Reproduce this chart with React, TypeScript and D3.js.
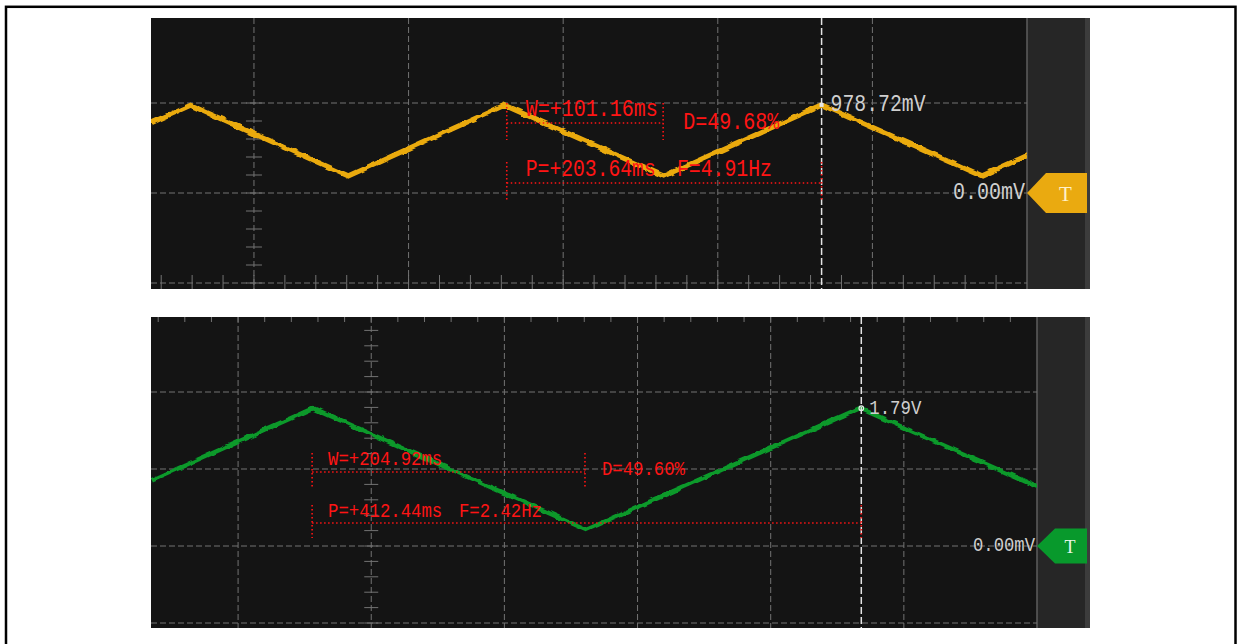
import React from 'react'
import { scaleLinear, line, range, max } from 'd3'

// channel A (yellow trace, upper screenshot): vertices of the triangle wave
const chATimeMs = [-66.6, -41.0, 61.0, 162.0, 265.0, 367.4, 471.0, 500.0]
const chAmV = [779, 975, 190, 975, 188, 978.72, 190, 415]
const chALabels = ['W=+101.16ms', 'D=49.68%', 'P=+203.64ms', 'F=4.91Hz', '978.72mV', '0.00mV']
// cursor start, pulse width, period (ms)
const chAMarks = [163.5, 101.16, 203.64]

// channel B (green trace, lower screenshot)
const chBTimeMs = [-165.4, -43.6, 161.7, 366.9, 500.0]
const chBmV = [850, 1790, 210, 1790, 770]
const chBLabels = ['W=+204.92ms', 'D=49.60%', 'P=+412.44ms', 'F=2.42Hz', '1.79V', '0.00mV']
const chBMarks = [-44.4, 204.92, 412.44]

const gridMs = [-100, 0, 100, 200, 300, 400]
const gridmV = [-1000, 0, 1000, 2000, 3000]

const MONO = '"Liberation Mono", "DejaVu Sans Mono", monospace'

type Layout = {
  x0: number; x1: number; x2: number; y0: number; y1: number
  tMin: number; vTop: number; vBot: number; yTop: number; yBot: number
  tickAxismV: number; tick: number
  color: string; tColor: string; width: number; fontSize: number
  wY: number[]; pY: number[]; wTextY: number; dTextY: number; pTextY: number
  textDx: number; dDx: number; fX: number; widths: number[]
  valueDx: number; valueW: number; zeroW: number; tBody: number; tHalf: number
  marker: 'square' | 'circle'
}

const topLayout: Layout = {
  x0: 151, x1: 1027, x2: 1090, y0: 18, y1: 289,
  tMin: -66.6, vTop: 1000, vBot: -1000, yTop: 103, yBot: 283,
  tickAxismV: -1000, tick: 8,
  color: '#EAAA10', tColor: '#FFF1C8', width: 5, fontSize: 21,
  wY: [103, 140, 123], pY: [162, 200, 183], wTextY: 110, dTextY: 123, pTextY: 170,
  textDx: 19, dDx: 20, fX: 677, widths: [132, 96, 130, 95],
  valueDx: 9, valueW: 95, zeroW: 72, tBody: 1046, tHalf: 20, marker: 'square'
}

const bottomLayout: Layout = {
  x0: 151, x1: 1037, x2: 1090, y0: 317, y1: 628,
  tMin: -165.4, vTop: 3000, vBot: -1000, yTop: 315, yBot: 623,
  tickAxismV: 3000, tick: 7,
  color: '#08992C', tColor: '#E8F6EA', width: 4.5, fontSize: 18,
  wY: [453, 487, 472], pY: [505, 538, 523], wTextY: 460, dTextY: 470, pTextY: 512,
  textDx: 16, dDx: 17, fX: 459, widths: [114, 83, 114, 83],
  valueDx: 8, valueW: 52, zeroW: 62, tBody: 1055, tHalf: 17.5, marker: 'circle'
}

// monospaced label, squeezed to a fixed width and stretched a little in height
function Label({ x, y, w, text }: { x: number, y: number, w: number, text: string }) {
  return (
    <text transform={`translate(${x},${y}) scale(1,1.15)`} textLength={w} lengthAdjust="spacingAndGlyphs">{text}</text>
  )
}

function Scope({ id, L, times, mv, labels, marks }: { id: string, L: Layout, times: number[], mv: number[], labels: string[], marks: number[] }) {
  const x = scaleLinear().domain([L.tMin, 500]).range([L.x0, L.x1])
  const y = scaleLinear().domain([L.vBot, L.vTop]).range([L.yBot, L.yTop])
  const pts = times.map((t, i) => [t, mv[i]] as [number, number])
  const path = line<[number, number]>().x(d => x(d[0])).y(d => y(d[1]))(pts) || ''

  const [start, w, p] = marks
  const xs = x(start), xw = x(start + w), xp = x(start + p)
  const cursorX = xp
  const peakY = y(max(mv) as number)
  const zeroY = y(0)
  const red = '#FF1414'
  const dots = '1.5 2.5'
  const grey = '#737373'

  const tTicks = range(Math.ceil(L.tMin / 20) * 20, 500, 20)
  const vTicks = range(L.vBot, L.vTop + 1, 200)

  return (
    <g>
      <defs>
        <clipPath id={id + '-clip'}>
          <rect x={L.x0} y={L.y0} width={L.x1 - L.x0} height={L.y1 - L.y0} />
        </clipPath>
        <filter id={id + '-rough'} x="-5%" y="-20%" width="110%" height="140%">
          <feTurbulence type="fractalNoise" baseFrequency="0.1 0.18" numOctaves="1" seed="3" />
          <feDisplacementMap in="SourceGraphic" scale="5" xChannelSelector="R" yChannelSelector="G" />
        </filter>
      </defs>
      <rect x={L.x0} y={L.y0} width={L.x1 - L.x0} height={L.y1 - L.y0} fill="#141414" />
      <rect x={L.x1} y={L.y0} width={L.x2 - L.x1} height={L.y1 - L.y0} fill="#262626" />
      <rect x={L.x2 - 5} y={L.y0} width={5} height={L.y1 - L.y0} fill="#3c3c3c" />
      <line x1={L.x1} x2={L.x1} y1={L.y0} y2={L.y1} stroke="#5e5e5e" strokeWidth={1.5} />

      <g clipPath={`url(#${id}-clip)`}>
        {gridMs.map(t => (
          <line key={'v' + t} x1={x(t)} x2={x(t)} y1={L.y0} y2={L.y1} stroke={grey} strokeDasharray="6 3" />
        ))}
        {gridmV.map(v => (
          <line key={'h' + v} x1={L.x0} x2={L.x1} y1={y(v)} y2={y(v)} stroke={grey} strokeDasharray="6 3" />
        ))}
        {tTicks.map(t => (
          <line key={'tt' + t} x1={x(t)} x2={x(t)} y1={y(L.tickAxismV) - L.tick} y2={y(L.tickAxismV) + L.tick} stroke={grey} />
        ))}
        {vTicks.map(v => (
          <line key={'vt' + v} x1={x(0) - L.tick} x2={x(0) + L.tick} y1={y(v)} y2={y(v)} stroke={grey} />
        ))}

        <path d={path} fill="none" stroke={L.color} strokeWidth={L.width} strokeLinejoin="miter" filter={`url(#${id}-rough)`} />

        <line x1={cursorX} x2={cursorX} y1={L.y0} y2={L.y1} stroke="#e4e4e4" strokeWidth={1.5} strokeDasharray="7 3" />

        {/* W and P brackets */}
        <g stroke={red} strokeWidth={1.6} strokeDasharray={dots}>
          <line x1={xs} x2={xs} y1={L.wY[0]} y2={L.wY[1]} />
          <line x1={xw} x2={xw} y1={L.wY[0]} y2={L.wY[1]} />
          <line x1={xs} x2={xw} y1={L.wY[2]} y2={L.wY[2]} />
          <line x1={xs} x2={xs} y1={L.pY[0]} y2={L.pY[1]} />
          <line x1={xp} x2={xp} y1={L.pY[0]} y2={L.pY[1]} />
          <line x1={xs} x2={xp} y1={L.pY[2]} y2={L.pY[2]} />
        </g>
        <g fill={red} fontFamily={MONO} fontSize={L.fontSize} dominantBaseline="central">
          <Label x={xs + L.textDx} y={L.wTextY} w={L.widths[0]} text={labels[0]} />
          <Label x={xw + L.dDx} y={L.dTextY} w={L.widths[1]} text={labels[1]} />
          <Label x={xs + L.textDx} y={L.pTextY} w={L.widths[2]} text={labels[2]} />
          <Label x={L.fX} y={L.pTextY} w={L.widths[3]} text={labels[3]} />
        </g>

        <g fill="#cfcfcf" fontFamily={MONO} fontSize={L.fontSize} dominantBaseline="central">
          <Label x={cursorX + L.valueDx} y={peakY} w={L.valueW} text={labels[4]} />
          <Label x={L.x1 - 2 - L.zeroW} y={zeroY} w={L.zeroW} text={labels[5]} />
        </g>
        {L.marker === 'square'
          ? <rect x={cursorX - 2} y={peakY - 2} width={4} height={4} fill="#e8e8e8" />
          : <circle cx={cursorX} cy={peakY} r={2.3} fill="none" stroke="#e8e8e8" strokeWidth={1.2} />}
      </g>

      <polygon
        points={[[L.x1, zeroY], [L.tBody, zeroY - L.tHalf], [L.x2 - 3, zeroY - L.tHalf], [L.x2 - 3, zeroY + L.tHalf], [L.tBody, zeroY + L.tHalf]].map(d => d.join(',')).join(' ')}
        fill={L.color}
      />
      <text x={(L.tBody + L.x2 - 3) / 2 - 1} y={zeroY + 1} fill={L.tColor} fontFamily='"Liberation Serif", serif' fontSize={L.fontSize} textAnchor="middle" dominantBaseline="central">T</text>
    </g>
  )
}

export default function App() {
  return (
    <svg width={1243} height={644} style={{ position: 'absolute', left: 0, top: 0, background: '#fff' }}>
      <rect x={0} y={0} width={1243} height={644} fill="#ffffff" />
      <rect x={6} y={6.8} width={1229.5} height={700} fill="none" stroke="#000" strokeWidth={2.5} />
      <Scope id="cha" L={topLayout} times={chATimeMs} mv={chAmV} labels={chALabels} marks={chAMarks} />
      <Scope id="chb" L={bottomLayout} times={chBTimeMs} mv={chBmV} labels={chBLabels} marks={chBMarks} />
    </svg>
  )
}
